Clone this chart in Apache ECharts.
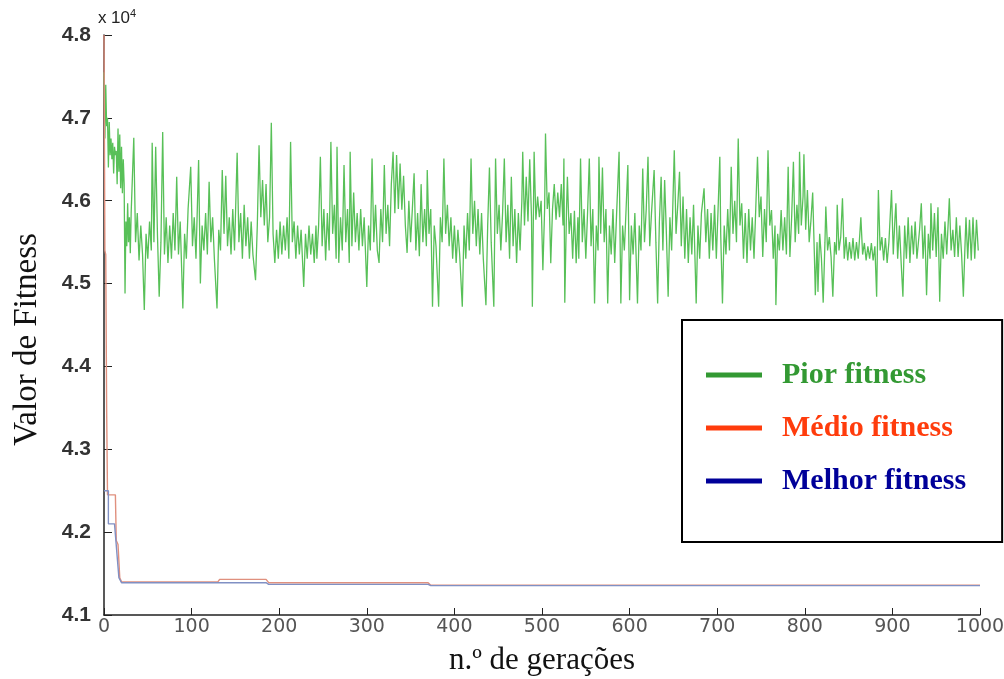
<!DOCTYPE html>
<html>
<head>
<meta charset="utf-8">
<script src="https://cdn.jsdelivr.net/npm/echarts@6/dist/echarts.min.js"></script>
<style>
  html, body { margin: 0; padding: 0; background: #fff; }
  #chart { width: 1004px; height: 679px; }
</style>
</head>
<body>
<div id="chart"></div>
<script>
// generations shown on the x axis
const xTicks = [0, 100, 200, 300, 400, 500, 600, 700, 800, 900, 1000]

// Pior fitness: [geração, valor]
const pior = [
  [0,47550],[1,46750],[2,47400],[3,46900],[4,47000],[5,46400],[6,46950],[7,46550],[8,46750],[9,46500],
  [10,46700],[11,46330],[12,46650],[13,46550],[14,46600],[15,46200],[16,46870],[17,46350],[18,46800],[19,46150],
  [20,46650],[21,46090],[22,46500],[23,46200],[24,44880],[25,45750],[26,45450],[27,45970],[28,45500],[29,45800],
  [30,45365],[31,45850],[34,46760],[36,45500],[38,45850],[40,45280],[42,45700],[44,45350],[46,44680],[48,45600],
  [50,45300],[52,45750],[54,45400],[55,46700],[57,45500],[59,46650],[61,45600],[63,44840],[65,45500],[67,46830],
  [69,45350],[71,45800],[73,45250],[75,45700],[77,45300],[79,45850],[81,45400],[83,46290],[85,45350],[87,45750],
  [90,44700],[92,45600],[94,45300],[96,45900],[99,46410],[101,45450],[103,45800],[105,45300],[108,46490],[110,45000],
  [112,45700],[114,45400],[116,45850],[118,45350],[120,46230],[122,45500],[124,45800],[126,45300],[129,44700],[131,45650],
  [133,45400],[135,46370],[137,45600],[139,46300],[141,45450],[143,45800],[145,45350],[147,45900],[149,45400],[152,46580],
  [154,45500],[156,45850],[158,45300],[160,45950],[162,45450],[164,45800],[166,45300],[168,45750],[170,45350],[173,45040],
  [175,45700],[177,46670],[179,45800],[181,46250],[183,45700],[185,46200],[187,45500],[189,45800],[191,46940],[193,45600],
  [195,45250],[197,45650],[199,45300],[201,45750],[203,45350],[205,45700],[207,45400],[209,45800],[211,45300],[213,46710],
  [215,45500],[217,45750],[219,45300],[221,45700],[223,45350],[225,45650],[228,44960],[230,45600],[232,45300],[234,45700],
  [236,45350],[238,45600],[240,45250],[242,45700],
  [243,45300],[245,45700],[247,46530],[249,45450],[251,45900],[253,45280],[255,45850],[257,45400],[259,46710],[261,45600],
  [263,45950],[265,45300],[266,46650],[268,45250],[270,45800],[272,45400],[274,46430],[276,45500],[278,45900],[280,45250],
  [281,46590],[283,45450],[285,46100],[287,45500],[289,45850],[291,45400],[293,45900],[295,45450],[297,45800],[300,44960],
  [302,45700],[304,45400],[306,46510],[308,45500],[310,45950],[312,45400],[314,45250],[316,45900],[318,45500],[320,46430],
  [322,45600],[324,45950],[326,45450],[328,46200],[330,46590],[332,45850],[334,46550],[336,45900],[338,46450],[340,45890],
  [342,46300],[344,45700],[346,45370],[348,46000],[350,45500],[352,45900],[354,46330],[356,45400],[358,45850],[360,45330],
  [362,46200],[364,45500],[366,45900],[368,45450],[369,46370],[371,45600],[373,45900],[375,44720],[377,45700],[379,45450],
  [382,44720],[384,45800],[386,45500],[388,46510],[390,45600],[392,45950],[394,45450],[396,45800],[398,45300],[400,45700],
  [402,45250],[404,45650],[406,45350],[409,44720],[411,45700],[413,45300],[415,45850],[417,45400],[419,46510],[421,45600],
  [423,46000],[425,45450],[427,45900],[429,45350],[431,45850],[433,45300],[436,44740],[438,45700],[440,46400],[442,45500],
  [445,44720],[447,46510],[449,45600],[451,45950],[453,45400],[455,45850],[457,46510],[459,45500],[461,45950],[463,45300],
  [465,46290],[467,45450],[469,45900],[471,45250],[473,45850],[475,45400],[477,46000],[478,46590],[480,45700],[482,46290],
  [484,45750],[486,46500],[488,45800],[489,44720],[491,46590],[493,45770],
  [495,46050],[497,45800],[499,46000],[501,45160],[503,45900],[504,46810],[506,45900],[508,46100],[510,45245],[512,45900],
  [514,46200],[516,45770],[518,46100],[520,45800],[522,46200],[524,45700],[525,46510],[526,44770],[528,45900],[529,46290],
  [531,45600],[533,45850],[535,45300],[537,45880],[539,45245],[541,45800],[542,45300],[544,46510],[546,45500],[548,45900],
  [550,45300],[552,45850],[554,46510],[556,45450],[558,45900],[560,44760],[562,45700],[564,45400],[565,46530],[567,45600],
  [569,46400],[571,45500],[573,45900],[575,44760],[577,45700],[579,45350],[581,45900],[583,45250],[585,45800],[588,46590],
  [590,44760],[592,45700],[594,45400],[596,45900],[598,46430],[600,44800],[602,45700],[604,45350],[606,45850],[609,44760],
  [611,45700],[613,45400],[615,46390],[617,45500],[619,45900],[621,46530],[623,45450],[625,45850],[628,46370],[630,45500],
  [632,44760],[634,45750],[636,46290],[638,45400],[640,46250],[642,45600],[644,44840],[646,45800],[648,45400],[651,46610],
  [653,45600],[655,45950],[657,46350],[659,45450],[661,46050],[663,45300],[665,45900],[667,45250],[669,45800],[671,45350],
  [673,45950],[676,44760],[678,45700],[680,45300],[682,45850],[685,46150],[687,45500],[689,45900],[691,45300],[693,45850],
  [695,45400],[697,45950],[699,45300],[701,45900],[703,46530],[704,45600],[706,44760],[708,45700],[710,45350],[712,45900],
  [714,45400],[716,46410],[718,45600],[720,46000],[722,45500],[724,46750],[726,45700],[728,45970],[730,45300],[732,45850],
  [734,45250],[736,45900],[738,45400],[740,45800],[742,45300],[744,45900],[746,46530],
  [748,45800],[750,46050],[752,45320],[754,45900],[756,45500],[758,46610],[760,45700],[762,45888],[764,45300],[766,45700],
  [767,44740],[769,45600],[771,45400],[773,45888],[775,45400],[777,45800],[779,45350],[781,46410],[783,45320],[785,45800],
  [787,46470],[789,45500],[791,45950],[793,45600],[794,46590],[796,45700],[798,46050],[799,46560],[801,45650],[803,46130],
  [805,45500],[807,45760],[809,46100],[811,45320],[812,44860],[814,45500],[815,44900],[817,45600],[819,45300],[821,44770],
  [823,45500],[824,45930],[826,45400],[828,45560],[830,45320],[832,44840],[834,45500],[836,45350],[837,45950],[839,45400],
  [841,45560],[843,46030],[845,45300],[847,45560],[849,45280],[851,45500],[853,45300],[855,45550],[857,45280],[859,45500],
  [861,45300],[864,45800],[866,45350],[868,45490],[870,45280],[872,45450],[874,45300],[876,45490],[878,45280],[880,45450],
  [882,44840],[884,46130],[886,45400],[888,45560],[890,45280],[892,45550],[894,45250],[896,45500],[899,46130],[901,45350],
  [903,45800],[904,45970],[906,45300],[908,45700],[910,45250],[912,44840],[914,45700],[916,45300],[918,45800],[920,45250],
  [922,45700],[924,45350],[926,45750],[928,45300],[931,45650],[933,45970],[935,45300],[937,45700],[939,44860],[941,45600],
  [943,45300],[944,45970],[946,45400],[948,45850],[950,45320],[952,45920],[954,44780],[956,45600],[958,45300],[960,45750],
  [962,45350],[965,46030],[967,45400],[969,45650],[971,45320],[973,45800],[975,45320],[977,45700],[979,45350],[981,44840],
  [983,45500],[984,45800],[986,45300],[988,45770],[990,45280],[992,45800],[994,45300],[996,45770],[998,45400]
]

// Médio fitness
const medio = [
  [0,48000],[1,45400],[2,45350],[3,43500],[4,42450],[13,42450],[14,41900],[16,41850],[18,41450],[20,41400],
  [130,41400],[132,41430],[185,41430],[188,41390],[370,41390],[373,41360],[1000,41360]
]

// Melhor fitness
const melhor = [
  [0,42500],[5,42500],[5,42100],[12,42100],[17,41450],[20,41390],[185,41390],[188,41370],[370,41370],[373,41355],[1000,41355]
]

const chart = echarts.init(document.getElementById('chart'))

const option = {
  animation: false,
  backgroundColor: '#fff',
  grid: { left: 104, right: 24, top: 35, bottom: 64, outerBoundsMode: 'none' },
  graphic: [
    {
      type: 'text',
      left: 11,
      top: 'middle',
      rotation: Math.PI / 2,
      style: { text: 'Valor de Fitness', fontFamily: 'Liberation Serif', fontSize: 33, fill: '#111' }
    }
  ],
  legend: {
    orient: 'vertical',
    left: 682,
    top: 320,
    padding: [40, 36, 46, 24],
    itemGap: 23,
    itemWidth: 56,
    itemHeight: 5,
    icon: 'rect',
    backgroundColor: '#fff',
    borderColor: '#000',
    borderWidth: 2,
    borderRadius: 0,
    textStyle: { fontFamily: 'Liberation Serif', fontWeight: 'bold', fontSize: 30, lineHeight: 30, padding: [0, 0, 0, 15] },
    data: [
      { name: 'Pior fitness', itemStyle: { color: '#339933' }, textStyle: { color: '#339933' } },
      { name: 'Médio fitness', itemStyle: { color: '#ff3c0c' }, textStyle: { color: '#ff3c0c' } },
      { name: 'Melhor fitness', itemStyle: { color: '#000099' }, textStyle: { color: '#000099' } }
    ]
  },
  xAxis: {
    type: 'value',
    min: xTicks[0],
    max: xTicks[xTicks.length - 1],
    interval: 100,
    name: 'n.º de gerações',
    nameLocation: 'middle',
    nameGap: 30,
    nameTextStyle: { fontFamily: 'Liberation Serif', fontSize: 31, color: '#111' },
    axisLine: { lineStyle: { color: '#222', width: 1.5 } },
    axisTick: { inside: true, length: 7, lineStyle: { color: '#222' } },
    axisLabel: { margin: 3, fontFamily: 'DejaVu Sans', fontSize: 19, color: '#555', formatter: v => String(v) },
    splitLine: { show: false }
  },
  yAxis: {
    type: 'value',
    min: 41000,
    max: 48000,
    interval: 1000,
    name: '{a|x 10}{b|4}',
    nameLocation: 'end',
    nameGap: 6,
    nameTextStyle: {
      align: 'center',
      padding: [0, 0, 0, 26],
      rich: {
        a: { fontFamily: 'Liberation Sans', fontSize: 17, color: '#222' },
        b: { fontFamily: 'Liberation Sans', fontSize: 11, color: '#222', verticalAlign: 'top', padding: [0, 0, 10, 0] }
      }
    },
    axisLine: { show: true, lineStyle: { color: '#222', width: 1.5 } },
    axisTick: { show: true, inside: true, length: 8, lineStyle: { color: '#222' } },
    axisLabel: {
      margin: 13,
      fontFamily: 'Liberation Sans',
      fontWeight: 'bold',
      fontSize: 21,
      color: '#333',
      formatter: v => (v / 10000).toFixed(1)
    },
    splitLine: { show: false }
  },
  series: [
    {
      name: 'Pior fitness',
      type: 'line',
      data: pior,
      symbol: 'none',
      color: '#58c058',
      lineStyle: { color: '#58c058', width: 1.3 }
    },
    {
      name: 'Médio fitness',
      type: 'line',
      data: medio,
      symbol: 'none',
      color: '#e0907e',
      lineStyle: { color: '#e0907e', width: 1.4 }
    },
    {
      name: 'Melhor fitness',
      type: 'line',
      data: melhor,
      symbol: 'none',
      color: '#8090c4',
      lineStyle: { color: '#8090c4', width: 1.4 }
    }
  ]
}

chart.setOption(option)
</script>
</body>
</html>
